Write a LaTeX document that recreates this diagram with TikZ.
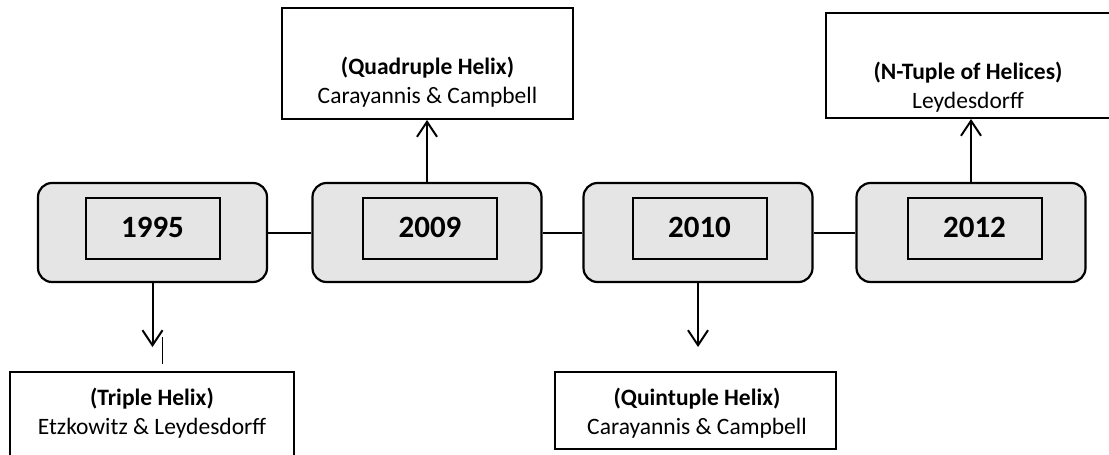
\documentclass[tikz,border=0pt]{standalone}
\usepackage{fontspec}
\setmainfont{Carlito}
\usetikzlibrary{positioning, calc, arrows.meta}

\definecolor{boxgray}{HTML}{E5E5E5}

\tikzset{
  yearbox/.style={draw, line width=2.2pt, rounded corners=14pt, fill=boxgray,
    minimum width=229pt, minimum height=99pt},
  yearlabel/.style={draw, line width=2pt, fill=boxgray, minimum width=134pt,
    minimum height=61pt, text height=19pt, text depth=0pt,
    font=\fontsize{31}{32}\selectfont\bfseries},
  helixbox/.style={draw, line width=2pt, fill=white},
  helixtext/.style={align=center, inner sep=0pt, font=\fontsize{23.5}{29}\selectfont},
  link/.style={line width=2pt},
  pointer/.style={line width=2pt, -{Straight Barb[length=15pt, width=20pt]}}
}

\begin{document}
\begin{tikzpicture}[x=1pt, y=-1pt]

    % --- PAGE FRAME (pixel grid of the reference, y pointing down) ---
    \useasboundingbox (0,0) rectangle (1109,455);
    \clip (0,0) rectangle (1109,455);

    % --- TIME LINE: YEAR BOXES ---
    \node[yearbox] (y1) at (152.5,232.5) {};
    \node[yearbox] (y2) at (427,232.5) {};
    \node[yearbox] (y3) at (698,232.5) {};
    \node[yearbox] (y4) at (971,232.5) {};

    % inner year labels, sitting a bit above the middle
    \node[yearlabel] (l1) at ($(y1.center)+(0,-4.5)$) {1995};
    \node[yearlabel] (l2) at ($(y2.center)+(3,-4.5)$) {2009};
    \node[yearlabel] (l3) at ($(y3.center)+(1.5,-4.5)$) {2010};
    \node[yearlabel] (l4) at ($(y4.center)+(3.5,-4.5)$) {2012};

    % --- LINKS BETWEEN THE YEARS ---
    \draw[link] (y1) -- (y2);
    \draw[link] (y2) -- (y3);
    \draw[link] (y3) -- (y4);

    % --- HELIX MODELS ---
    % top row (above 2009 and 2012)
    \node[helixbox, minimum width=291pt, minimum height=111pt] (quad) at (427.5,63.5) {};
    \node[helixbox, minimum width=284pt, minimum height=105pt] (ntuple) at (968,65.5) {};
    % bottom row (below 1995 and 2010)
    \node[helixbox, minimum width=284pt, minimum height=90pt] (triple) at (152,417) {};
    \node[helixbox, minimum width=281pt, minimum height=77pt] (quint) at (695.5,410.5) {};

    \node[helixtext] (quadtxt) at ($(quad.center)+(0,18.5)$)
      {\textbf{(Quadruple Helix)}\\Carayannis \& Campbell};
    \node[helixtext] (ntupletxt) at ($(ntuple.center)+(0,22)$)
      {\textbf{(N-Tuple of Helices)}\\Leydesdorff};
    \node[helixtext] (tripletxt) at ($(triple.center)+(0,-3.5)$)
      {\textbf{(Triple Helix)}\\Etzkowitz \& Leydesdorff};
    \node[helixtext] (quinttxt) at ($(quint.center)+(1.5,3)$)
      {\textbf{(Quintuple Helix)}\\Carayannis \& Campbell};

    % --- ARROWS FROM YEARS TO MODELS ---
    \draw[pointer] (y1.south) -- ($(y1.south |- triple.north)+(0,-24)$);
    \draw[pointer] (y2.north) -- (y2.north |- quad.south);
    \draw[pointer] (y3.south) -- ($(y3.south |- quint.north)+(0,-24)$);
    \draw[pointer] (y4.north) -- (y4.north |- ntuple.south);

    % short stray stroke next to the 1995 arrow
    \draw[line width=0.8pt] ($(triple.north)+(10,-34)$) -- ($(triple.north)+(10,-7)$);

\end{tikzpicture}
\end{document}
